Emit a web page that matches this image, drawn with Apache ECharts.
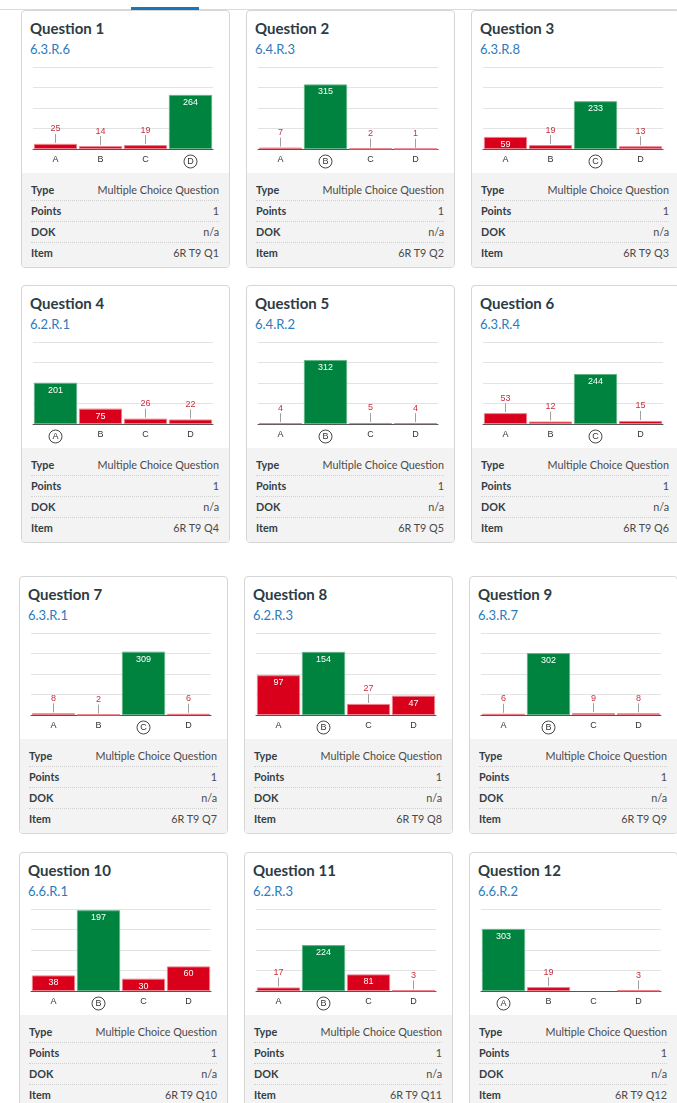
<!DOCTYPE html>
<html>
<head>
<meta charset="utf-8">
<script src="https://cdn.jsdelivr.net/npm/echarts@6/dist/echarts.min.js"></script>
<style>
  html, body { margin: 0; padding: 0; width: 677px; height: 1103px; overflow: hidden; background: #fff; font-family: Lato, "Noto Sans", sans-serif; }
  .topline { position: absolute; left: 0; top: 9px; width: 677px; height: 1px; background: #d9dcdf; }
  .tab { position: absolute; left: 131px; top: 7px; width: 68px; height: 3px; background: #1b75bb; }
  .card { position: absolute; width: 207px; height: 256px; border: 1px solid #d6d6d6; border-radius: 4px; overflow: hidden; background: #fff; }
  .title { position: absolute; left: 8px; top: 8px; font-size: 15px; line-height: 18px; font-weight: 700; color: #2d3b45; white-space: nowrap; }
  .std { position: absolute; left: 8px; top: 30px; font-size: 13px; line-height: 16px; color: #2b7bbd; white-space: nowrap; }
  .chart { position: absolute; left: 0; top: 49px; width: 207px; height: 112px; }
  .tbl { position: absolute; left: 0; top: 162px; width: 207px; bottom: 0; background: #f3f3f3; box-sizing: border-box; padding: 7px 10px 0 9px; }
  .row { height: 20px; line-height: 20px; border-bottom: 1px dotted #d0d0d0; font-size: 10.8px; display: flex; justify-content: space-between; white-space: nowrap; }
  .row:last-child { border-bottom: none; }
  .row .k { font-weight: 700; color: #333d45; }
  .row .v { color: #4a4a4a; }
</style>
</head>
<body>
<div class="topline"></div>
<div class="tab"></div>
<div id="wrap"></div>
<script>
(function () {
  const titles = ["Question 1", "Question 2", "Question 3", "Question 4", "Question 5", "Question 6",
    "Question 7", "Question 8", "Question 9", "Question 10", "Question 11", "Question 12"];
  const standards = ["6.3.R.6", "6.4.R.3", "6.3.R.8", "6.2.R.1", "6.4.R.2", "6.3.R.4",
    "6.3.R.1", "6.2.R.3", "6.3.R.7", "6.6.R.1", "6.2.R.3", "6.6.R.2"];
  const items = ["6R T9 Q1", "6R T9 Q2", "6R T9 Q3", "6R T9 Q4", "6R T9 Q5", "6R T9 Q6",
    "6R T9 Q7", "6R T9 Q8", "6R T9 Q9", "6R T9 Q10", "6R T9 Q11", "6R T9 Q12"];
  const letters = ["A", "B", "C", "D"];
  const correct = ["D", "B", "C", "A", "B", "C", "C", "B", "B", "B", "B", "A"];
  const counts = [
    [25, 14, 19, 264],
    [7, 315, 2, 1],
    [59, 19, 233, 13],
    [201, 75, 26, 22],
    [4, 312, 5, 4],
    [53, 12, 244, 15],
    [8, 2, 309, 6],
    [97, 154, 27, 47],
    [6, 302, 9, 8],
    [38, 197, 30, 60],
    [17, 224, 81, 3],
    [303, 19, 0, 3],
  ];
  const axisMax = [400, 400, 400, 400, 400, 400, 400, 200, 400, 200, 400, 400];
  const tableLabels = ["Type", "Points", "DOK", "Item"];
  const questionType = "Multiple Choice Question";
  const points = "1";
  const dok = "n/a";

  // card placement
  const rowTops = [10, 285, 576, 852];
  const rowLefts = [[21, 246, 471], [21, 246, 471], [19, 244, 469], [19, 244, 469]];

  const GREEN = "#00833f";
  const GREEN_EDGE = "#62b387";
  const RED = "#d9001b";
  const RED_EDGE = "#ef7d8a";
  const PLOT_H = 82;
  const MIN_INSIDE = 11.5; // px of bar needed to hold the label

  const wrap = document.getElementById("wrap");

  for (let i = 0; i < titles.length; i++) {
    const r = Math.floor(i / 3);
    const c = i % 3;
    const card = document.createElement("div");
    card.className = "card";
    card.style.left = rowLefts[r][c] + "px";
    card.style.top = rowTops[r] + "px";
    const values = [questionType, points, dok, items[i]];
    let rows = "";
    for (let k = 0; k < tableLabels.length; k++) {
      rows += '<div class="row"><span class="k">' + tableLabels[k] + '</span><span class="v">' + values[k] + "</span></div>";
    }
    card.innerHTML =
      '<div class="title">' + titles[i] + "</div>" +
      '<div class="std">' + standards[i] + "</div>" +
      '<div class="chart"></div>' +
      '<div class="tbl">' + rows + "</div>";
    wrap.appendChild(card);
    buildChart(card.querySelector(".chart"), i);
  }

  function buildChart(el, i) {
    const myChart = echarts.init(el);
    const max = axisMax[i];

    const barData = counts[i].map(function (v, j) {
      const ok = letters[j] === correct[i];
      const inside = (v / max) * PLOT_H >= MIN_INSIDE;
      return {
        value: v,
        itemStyle: {
          color: ok ? GREEN : RED,
          borderColor: ok ? GREEN_EDGE : RED_EDGE,
          borderWidth: v > 0 ? 1 : 0,
        },
        label: { show: inside },
      };
    });

    // small bars get their label above, with a short guide line
    const outData = [];
    counts[i].forEach(function (v, j) {
      if (v > 0 && (v / max) * PLOT_H < MIN_INSIDE) outData.push([j, v]);
    });

    const option = {
      animation: false,
      grid: { left: 11, width: 180, top: 7, height: PLOT_H },
      xAxis: {
        type: "category",
        data: letters,
        axisLine: { lineStyle: { color: "#555", width: 1 } },
        axisTick: { show: false },
        axisLabel: {
          margin: 6,
          color: "#333",
          fontSize: 9,
          fontFamily: "Liberation Sans, Arial, sans-serif",
          formatter: function (val) {
            return val === correct[i] ? "{c|" + val + "}" : val;
          },
          rich: {
            c: {
              color: "#333",
              fontSize: 9,
              fontFamily: "Liberation Sans, Arial, sans-serif",
              width: 13,
              height: 13,
              lineHeight: 13,
              align: "center",
              borderColor: "#444",
              borderWidth: 1,
              borderRadius: 7,
            },
          },
        },
      },
      yAxis: {
        type: "value",
        min: 0,
        max: max,
        interval: max / 4,
        axisLabel: { show: false },
        axisLine: { show: false },
        axisTick: { show: false },
        splitLine: { lineStyle: { color: "#e3e3e3", width: 1 } },
      },
      series: [
        {
          type: "bar",
          data: barData,
          barCategoryGap: "4%",
          label: {
            position: "insideTop",
            distance: 3,
            color: "#fff",
            fontSize: 9,
            fontFamily: "Liberation Sans, Arial, sans-serif",
          },
        },
        {
          type: "custom",
          data: outData,
          clip: false,
          silent: true,
          renderItem: function (params, api) {
            const p = api.coord([api.value(0), api.value(1)]);
            return {
              type: "group",
              children: [
                {
                  type: "line",
                  shape: { x1: p[0], y1: p[1] - 1, x2: p[0], y2: p[1] - 10 },
                  style: { stroke: "#a0a0a0", lineWidth: 1 },
                },
                {
                  type: "text",
                  x: p[0],
                  y: p[1] - 15,
                  style: {
                    text: String(api.value(1)),
                    fill: "#c8303e",
                    font: '9px "Liberation Sans", Arial, sans-serif',
                    align: "center",
                    verticalAlign: "middle",
                    textAlign: "center",
                    textVerticalAlign: "middle",
                  },
                },
              ],
            };
          },
        },
      ],
    };

    myChart.setOption(option, true);
  }
})();
</script>
</body>
</html>
